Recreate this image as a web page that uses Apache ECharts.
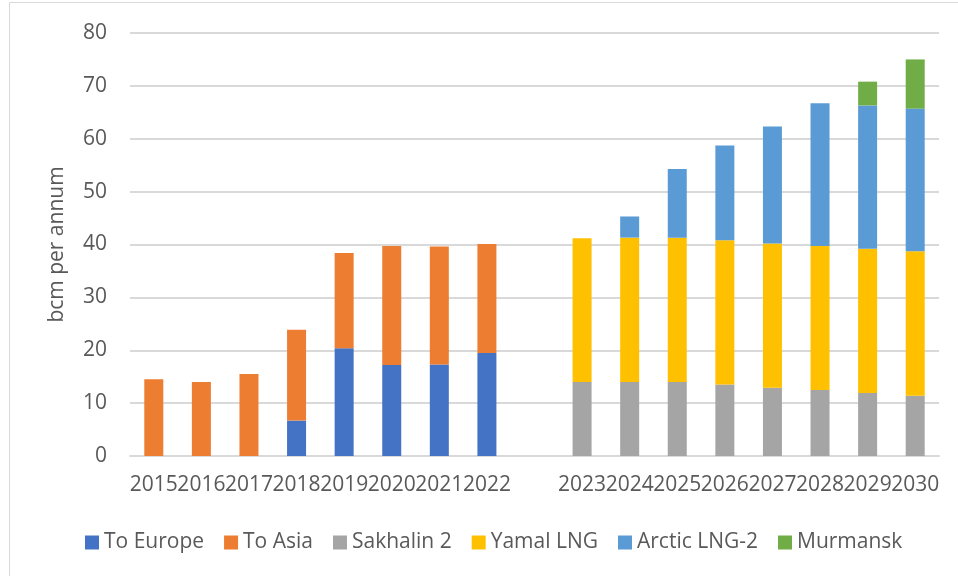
<!DOCTYPE html>
<html>
<head>
<meta charset="utf-8">
<script src="https://cdn.jsdelivr.net/npm/echarts@6/dist/echarts.min.js"></script>
<style>
	html, body { margin: 0; padding: 0; background: #fff; }
	#main { width: 958px; height: 576px; }
</style>
</head>
<body>
<div id="main"></div>
<script>
var years = ['2015','2016','2017','2018','2019','2020','2021','2022','',
	'2023','2024','2025','2026','2027','2028','2029','2030'];
var toEurope   = [null, null, null, 6.7, 20.4, 17.2, 17.3, 19.5, null, null, null, null, null, null, null, null, null];
var toAsia     = [14.5, 14.0, 15.5, 17.2, 18.0, 22.5, 22.3, 20.6, null, null, null, null, null, null, null, null, null];
var sakhalin2  = [null, null, null, null, null, null, null, null, null, 14.0, 14.0, 14.0, 13.5, 12.9, 12.5, 11.9, 11.4];
var yamalLng   = [null, null, null, null, null, null, null, null, null, 27.2, 27.3, 27.3, 27.3, 27.3, 27.2, 27.3, 27.3];
var arcticLng2 = [null, null, null, null, null, null, null, null, null, null, 4.0, 13.0, 17.9, 22.1, 27.0, 27.1, 27.0];
var murmansk   = [null, null, null, null, null, null, null, null, null, null, null, null, null, null, null, 4.5, 9.3];
var yTicks = [0, 10, 20, 30, 40, 50, 60, 70, 80];

var textColor = '#595959';
var font = '"Open Sans", sans-serif';

function bar(name, data, color) {
	return {
		name : name,
		type : 'bar',
		stack : 'total',
		barWidth : 19,
		data : data,
		itemStyle : { color : color },
		emphasis : { disabled : true }
	};
}

var myChart = echarts.init(document.getElementById('main'));
var option = {
	animation : false,
	textStyle : { fontFamily : font },
	graphic : [ {
		type : 'rect',
		shape : { x : 9.5, y : 2.5, width : 1000, height : 700 },
		style : { fill : 'none', stroke : '#d9d9d9', lineWidth : 1 },
		silent : true
	} ],
	grid : {
		left : 130,
		right : 19,
		top : 33,
		bottom : 120
	},
	legend : {
		left : 80,
		top : 527,
		itemWidth : 14,
		itemHeight : 14,
		itemGap : 20,
		icon : 'rect',
		textStyle : { color : textColor, fontSize : 21, fontFamily : font },
		data : ['To Europe', 'To Asia', 'Sakhalin 2', 'Yamal LNG', 'Arctic LNG-2', 'Murmansk']
	},
	xAxis : [ {
		type : 'category',
		data : years,
		axisLine : { lineStyle : { color : '#d9d9d9', width : 2 } },
		axisTick : { show : false },
		axisLabel : {
			interval : 0,
			hideOverlap : false,
			color : textColor,
			fontSize : 21,
			fontFamily : font,
			margin : 19
		}
	} ],
	yAxis : [ {
		type : 'value',
		min : yTicks[0],
		max : yTicks[yTicks.length - 1],
		interval : 10,
		name : 'bcm per annum',
		nameLocation : 'middle',
		nameGap : 62,
		nameTextStyle : { color : textColor, fontSize : 21, fontFamily : font },
		axisLine : { show : false },
		axisTick : { show : false },
		splitLine : { lineStyle : { color : '#d9d9d9', width : 2 } },
		axisLabel : {
			color : textColor,
			fontSize : 21,
			fontFamily : font,
			margin : 23
		}
	} ],
	series : [
		bar('To Europe', toEurope, '#4472C4'),
		bar('To Asia', toAsia, '#ED7D31'),
		bar('Sakhalin 2', sakhalin2, '#A5A5A5'),
		bar('Yamal LNG', yamalLng, '#FFC000'),
		bar('Arctic LNG-2', arcticLng2, '#5B9BD5'),
		bar('Murmansk', murmansk, '#70AD47')
	]
};
myChart.setOption(option);
</script>
</body>
</html>
